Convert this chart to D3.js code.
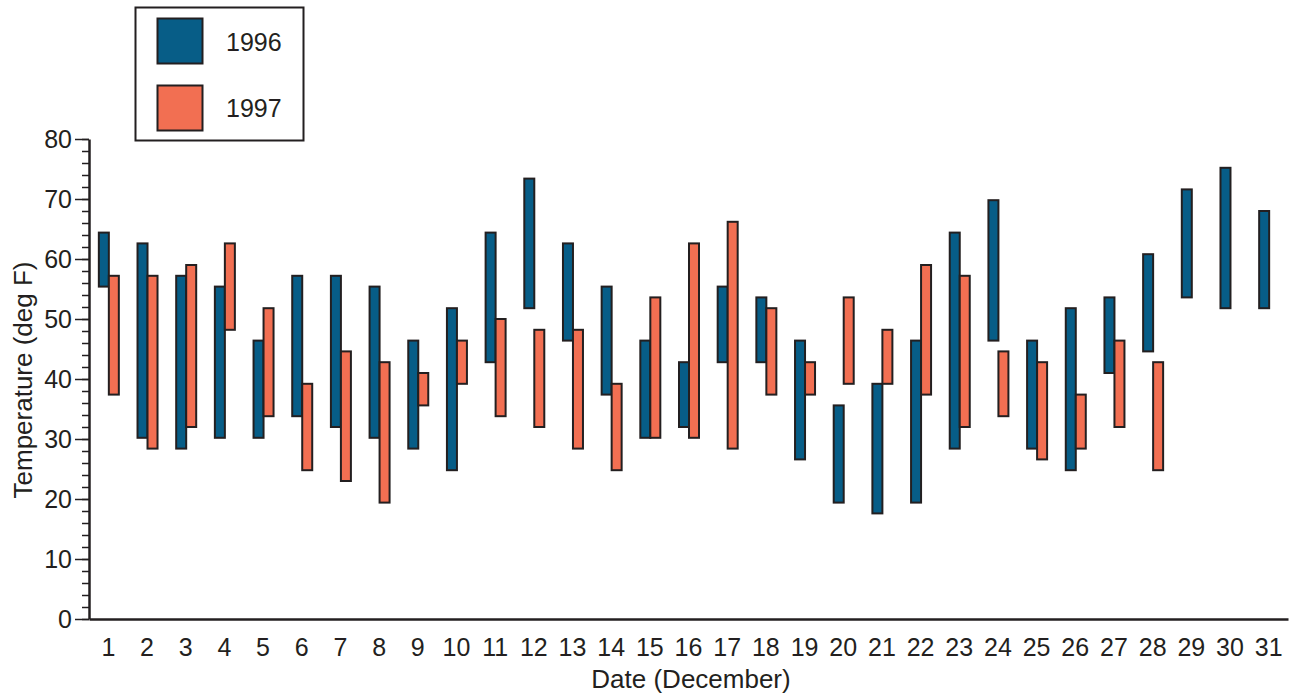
<!DOCTYPE html>
<html>
<head>
<meta charset="utf-8">
<script src="https://cdn.jsdelivr.net/npm/d3@7"></script>
<style>
  body { margin: 0; background: #fff; }
  text { font-family: "Liberation Sans", Arial, Helvetica, sans-serif; fill: #231f20; }
</style>
</head>
<body>
<div id="chart"></div>
<script>
// data: daily temperature ranges (deg F), December
const days = d3.range(1, 32);
const years = ["1996", "1997"];
const high1996 = [64.4, 62.6, 57.2, 55.4, 46.4, 57.2, 57.2, 55.4, 46.4, 51.8, 64.4, 73.4, 62.6, 55.4, 46.4, 42.8,
  55.4, 53.6, 46.4, 35.6, 39.2, 46.4, 64.4, 69.8, 46.4, 51.8, 53.6, 60.8, 71.6, 75.2, 68];
const low1996 = [55.4, 30.2, 28.4, 30.2, 30.2, 33.8, 32, 30.2, 28.4, 24.8, 42.8, 51.8, 46.4, 37.4, 30.2, 32,
  42.8, 42.8, 26.6, 19.4, 17.6, 19.4, 28.4, 46.4, 28.4, 24.8, 41, 44.6, 53.6, 51.8, 51.8];
const high1997 = [57.2, 57.2, 59, 62.6, 51.8, 39.2, 44.6, 42.8, 41, 46.4, 50, 48.2, 48.2, 39.2, 53.6, 62.6,
  66.2, 51.8, 42.8, 53.6, 48.2, 59, 57.2, 44.6, 42.8, 37.4, 46.4, 42.8, null, null, null];
const low1997 = [37.4, 28.4, 32, 48.2, 33.8, 24.8, 23, 19.4, 35.6, 39.2, 33.8, 32, 28.4, 24.8, 30.2, 30.2,
  28.4, 37.4, 37.4, 39.2, 39.2, 37.4, 32, 33.8, 26.6, 28.4, 32, 24.8, null, null, null];
const colors = ["#075d87", "#f26f52"];

const W = 1298, H = 698;
const svg = d3.select("#chart").append("svg").attr("width", W).attr("height", H);

const x = d3.scaleBand().domain(days).range([89, 1288]);
const y = d3.scaleLinear().domain([0, 80]).range([619, 139]);
const barW = 10;

// bars
const rows = [];
days.forEach((d, i) => {
  rows.push({ day: d, k: 0, hi: high1996[i], lo: low1996[i] });
  if (high1997[i] != null) rows.push({ day: d, k: 1, hi: high1997[i], lo: low1997[i] });
});
svg.append("g").selectAll("rect").data(rows).enter().append("rect")
  .attr("x", d => x(d.day) + x.bandwidth() / 2 - barW + d.k * barW + 0.5)
  .attr("y", d => y(d.hi))
  .attr("width", barW)
  .attr("height", d => y(d.lo) - y(d.hi))
  .attr("fill", d => colors[d.k])
  .attr("stroke", "#231f20")
  .attr("stroke-width", 2);

// y axis: minor ticks
svg.append("g").attr("transform", "translate(89,0)")
  .call(d3.axisLeft(y).tickValues(d3.range(0, 81, 2)).tickSize(7).tickFormat(""))
  .call(g => g.select(".domain").remove())
  .call(g => g.selectAll("line").attr("stroke", "#231f20").attr("stroke-width", 1.5));
// y axis: major ticks
svg.append("g").attr("transform", "translate(89,0)")
  .call(d3.axisLeft(y).tickValues(d3.range(0, 81, 10)).tickSize(14).tickPadding(3).tickSizeOuter(0))
  .call(g => g.select(".domain").attr("stroke", "#231f20").attr("stroke-width", 2.5))
  .call(g => g.selectAll("line").attr("stroke", "#231f20").attr("stroke-width", 1.5))
  .call(g => g.selectAll("text").attr("font-size", 25).attr("font-family", null));

// x axis
svg.append("g").attr("transform", "translate(0,619)")
  .call(d3.axisBottom(x).tickSize(0).tickPadding(19).tickSizeOuter(0))
  .call(g => g.select(".domain").attr("stroke", "#231f20").attr("stroke-width", 2.5))
  .call(g => g.selectAll("text").attr("font-size", 25).attr("font-family", null));

// axis titles
svg.append("text").attr("x", 691).attr("y", 688).attr("text-anchor", "middle")
  .attr("font-size", 26).text("Date (December)");
svg.append("text").attr("transform", "translate(32,380) rotate(-90)").attr("text-anchor", "middle")
  .attr("font-size", 26).text("Temperature (deg F)");

// legend
const lg = svg.append("g");
lg.append("rect").attr("x", 135.5).attr("y", 7.5).attr("width", 168).attr("height", 133)
  .attr("fill", "#fff").attr("stroke", "#231f20").attr("stroke-width", 2);
years.forEach((yr, i) => {
  lg.append("rect").attr("x", 157.5).attr("y", 18.5 + i * 67).attr("width", 45).attr("height", 45)
    .attr("fill", colors[i]).attr("stroke", "#231f20").attr("stroke-width", 2);
  lg.append("text").attr("x", 226).attr("y", 51 + i * 66).attr("font-size", 25).text(yr);
});
</script>
</body>
</html>
